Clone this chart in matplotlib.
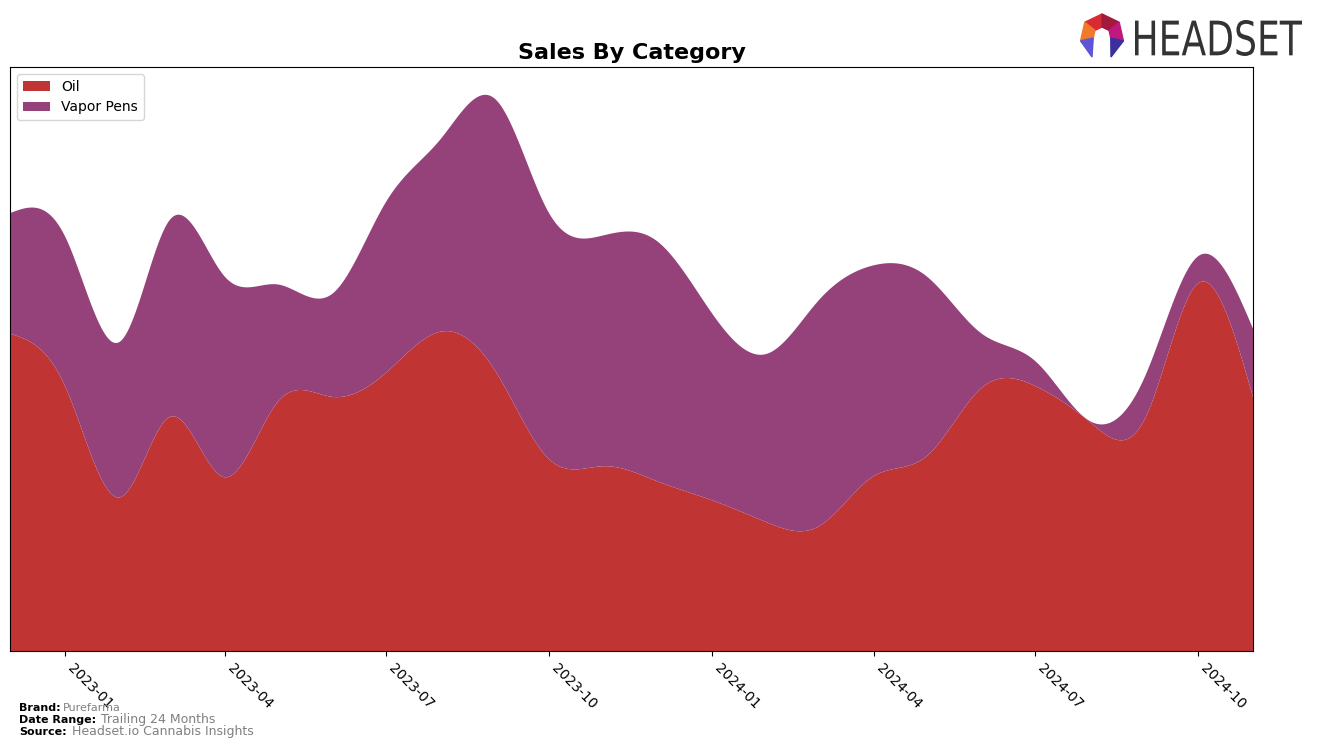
"""
Sales by category - stacked, smoothed area chart (Purefarma, trailing 24 months)
"""

# Libs
import numpy as np
import pandas as pd
import matplotlib
matplotlib.use("Agg")
import matplotlib.pyplot as plt
import matplotlib.dates as mdates
from matplotlib.patches import Polygon, PathPatch
from matplotlib.textpath import TextPath
from matplotlib.font_manager import FontProperties
from matplotlib.transforms import Affine2D

# ------------------ Data (monthly)
months = pd.date_range("2022-12-01", "2024-11-01", freq="MS")
oil = [316, 264, 153, 233, 173, 248, 253, 277, 318, 278, 191, 184,
       169, 150, 128, 124, 174, 194, 262, 264, 228, 231, 366, 253]
vapor_pens = [120, 149, 155, 196, 200, 117, 103, 170, 192, 271, 245, 230,
              239, 186, 168, 225, 210, 179, 54, 25, 1, 42, 27, 68]
categories = ["Oil", "Vapor Pens"]
colors = ["#c13434", "#96427a"]


def natural_spline(x, y, xs):
    """Natural cubic spline through (x, y), evaluated at xs"""
    x = np.asarray(x, float)
    y = np.asarray(y, float)
    n = len(x)
    h = np.diff(x)
    A = np.zeros((n, n))
    r = np.zeros(n)
    A[0, 0] = 1
    A[-1, -1] = 1
    for i in range(1, n - 1):
        A[i, i - 1] = h[i - 1]
        A[i, i] = 2 * (h[i - 1] + h[i])
        A[i, i + 1] = h[i]
        r[i] = 3 * ((y[i + 1] - y[i]) / h[i] - (y[i] - y[i - 1]) / h[i - 1])
    c = np.linalg.solve(A, r)
    b = (y[1:] - y[:-1]) / h - h * (2 * c[:-1] + c[1:]) / 3
    d = (c[1:] - c[:-1]) / (3 * h)
    idx = np.clip(np.searchsorted(x, xs) - 1, 0, n - 2)
    dx = xs - x[idx]
    return y[idx] + b[idx] * dx + c[idx] * dx ** 2 + d[idx] * dx ** 3


xnum = mdates.date2num(months.to_pydatetime())
xs = np.linspace(xnum[0], xnum[-1], 800)
oil_s = np.clip(natural_spline(xnum, oil, xs), 0, None)
vape_s = np.clip(natural_spline(xnum, vapor_pens, xs), 0, None)

# ------------------ Figure
fig = plt.figure(figsize=(13.17, 7.47), dpi=100)
ax = fig.add_axes([0.0076, 0.1285, 0.9438, 0.7818])

ax.stackplot(mdates.num2date(xs), oil_s, vape_s, labels=categories, colors=colors)
ax.set_xlim(mdates.num2date(xnum[0]), mdates.num2date(xnum[-1]))
ax.set_ylim(0, (oil_s + vape_s).max() * 1.05)
ax.set_yticks([])

ax.xaxis.set_major_locator(mdates.MonthLocator(bymonth=[1, 4, 7, 10]))
ax.xaxis.set_major_formatter(mdates.DateFormatter("%Y-%m"))
plt.setp(ax.get_xticklabels(), rotation=-45, ha="left", fontsize=10)

ax.set_title("Sales By Category", fontsize=16, fontweight="bold")
ax.legend(loc="upper left", fontsize=10)

# ------------------ Footer
fig.text(0.0144, 0.0482, "Brand:", fontsize=8, fontweight="bold")
fig.text(0.048, 0.0482, "Purefarma", fontsize=8, color="grey")
fig.text(0.0144, 0.0322, "Date Range:", fontsize=8, fontweight="bold")
fig.text(0.077, 0.0322, "Trailing 24 Months", fontsize=9, color="grey")
fig.text(0.0144, 0.0162, "Source:", fontsize=8, fontweight="bold")
fig.text(0.0547, 0.0162, "Headset.io Cannabis Insights", fontsize=9, color="grey")

# ------------------ Headset logo (pixel coords, origin bottom-left)
H = 747
tp = TextPath((0, 0), "HEADSET", size=100, prop=FontProperties(family="DejaVu Sans"))
ext = tp.get_extents()
sx = (1302 - 1135) / ext.width
sy = (56 - 20) / ext.height
tr = Affine2D().translate(-ext.x0, -ext.y0).scale(sx, sy).translate(1135, H - 56)
fig.patches.append(PathPatch(tr.transform_path(tp), color="#333333", lw=0,
                             transform=None, figure=fig))

cx, cy = 1102, H - 36
ro, ri = 22, 9


def ring_pt(r, ang):
    a = np.deg2rad(ang)
    return (cx + r * np.cos(a), cy + r * np.sin(a))


segments = [(90, 141.4, "#d92b36"), (38.6, 90, "#a11a3c"), (-12.9, 38.6, "#c0187f"),
            (141.4, 192.9, "#f07a2a")]
for a0, a1, col in segments:
    pts = [ring_pt(ro, a0), ring_pt(ro, a1), ring_pt(ri, a1), ring_pt(ri, a0)]
    fig.patches.append(Polygon(pts, closed=True, color=col, transform=None, figure=fig))
legs = [([ring_pt(ro, -12.9), ring_pt(ri, -12.9), (1111, H - 57)], "#3b2f9e"),
        ([ring_pt(ro, 192.9), ring_pt(ri, 192.9), (1092, H - 57)], "#5f54d6")]
for pts, col in legs:
    fig.patches.append(Polygon(pts, closed=True, color=col, transform=None, figure=fig))

fig.savefig("out.png", dpi=100)
